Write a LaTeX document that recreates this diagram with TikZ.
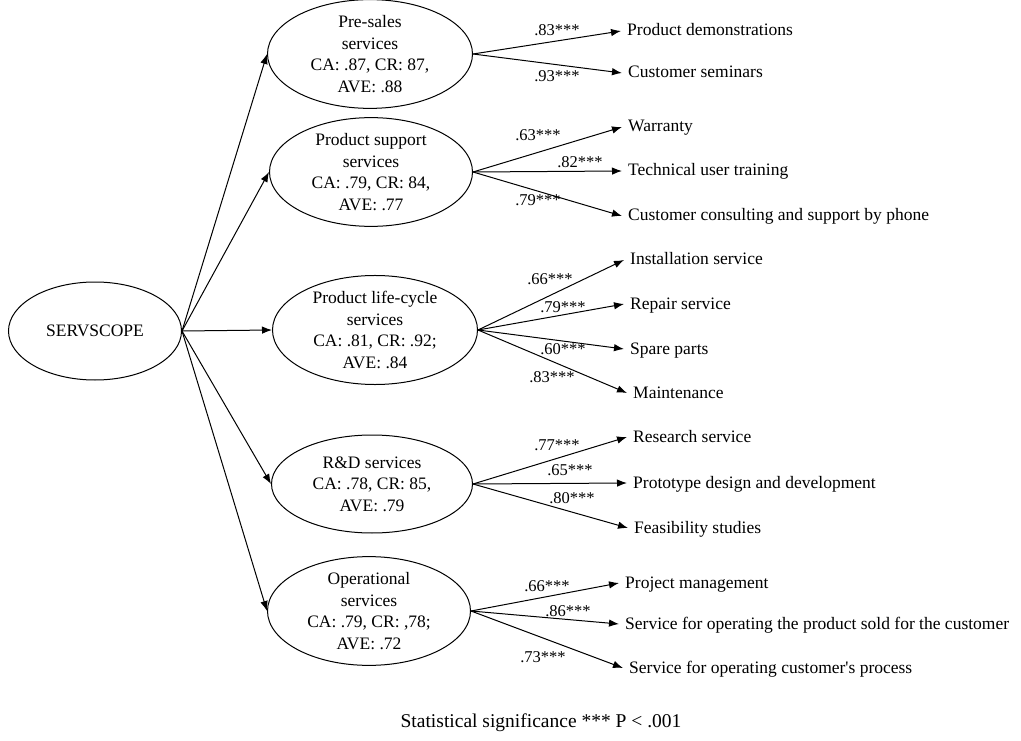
\documentclass[tikz,border=0pt]{standalone}
\usepackage{fontspec}
\setmainfont{Liberation Serif}
\usetikzlibrary{shapes.geometric,arrows.meta}

\begin{document}
\begin{tikzpicture}[x=1pt,y=-1pt,font=\fontsize{17.5}{21.5}\selectfont,
	>={Latex[length=10pt,width=7.5pt]},
	latent/.style={ellipse,draw,line width=1pt,inner sep=0pt,align=center},
	indic/.style={anchor=base west,inner ysep=0pt,inner xsep=6pt},
	load/.style={inner sep=0pt,font=\fontsize{16.5}{18}\selectfont}]
	\useasboundingbox[fill=white] (0,0) rectangle (1021,741);
	\node[latent,minimum width=173pt,minimum height=98pt] (serv) at (95,331) {SERVSCOPE};
	\node[latent,minimum width=205pt,minimum height=96pt] (pres) at (370,54)
		{Pre-sales\\services\\CA: .87, CR: 87,\\AVE: .88};
	\node[latent,minimum width=203pt,minimum height=98pt] (supp) at (371,172)
		{Product support\\services\\CA: .79, CR: 84,\\AVE: .77};
	\node[latent,minimum width=205pt,minimum height=102pt] (life) at (375,330)
		{Product life-cycle\\services\\CA: .81, CR: .92;\\AVE: .84};
	\node[latent,minimum width=201pt,minimum height=98pt] (rnd) at (372,484)
		{R\&D services\\CA: .78, CR: 85,\\AVE: .79};
	\node[latent,minimum width=203pt,minimum height=104pt] (oper) at (369,611)
		{Operational\\services\\CA: .79, CR: ,78;\\AVE: .72};
	\foreach \B in {pres,supp,life,rnd,oper}
		\draw[->,line width=1pt] (serv.east) -- (\B.west);
	\foreach \X/\Y/\T [count=\Z] in {621/31/Product demonstrations, 622/73/Customer seminars,
	622/127/Warranty, 622/171/Technical user training,
	622/216/Customer consulting and support by phone,
	624/260/Installation service, 624/304/Repair service, 624/349/Spare parts,
	627/393/Maintenance, 627/437/Research service,
	627/483/Prototype design and development, 628/528/Feasibility studies,
	619/583/Project management, 619/624/Service for operating the product sold for the customer,
	623/668/Service for operating customer\textquotesingle s process}
	{\node[indic] (i\Z) at (\X,\Y+5) {\T};}
	\foreach \A/\B in {pres/i1, pres/i2, supp/i3, supp/i4, supp/i5, life/i6, life/i7,
	life/i8, life/i9, rnd/i10, rnd/i11, rnd/i12, oper/i13, oper/i14, oper/i15}
		\draw[->,line width=1pt] (\A.east) -- ([yshift=5pt]\B.base west);
	\foreach \X/\Y/\T [count=\Z] in {557/30/.83, 557/76/.93, 538/135/.63, 580/162/.82,
	538/200/.79, 550/279/.66, 563/307/.79, 563/349/.60, 552/377/.83,
	557/445/.77, 570/470/.65, 572/498/.80, 547/586/.66, 568/611/.86, 543/657/.73}
	{\node[load] (w\Z) at (\X,\Y) {\T***};}
	\node[anchor=base,font=\fontsize{19.5}{22}\selectfont] (note) at (541,727)
		{Statistical significance *** P < .001};
\end{tikzpicture}
\end{document}
